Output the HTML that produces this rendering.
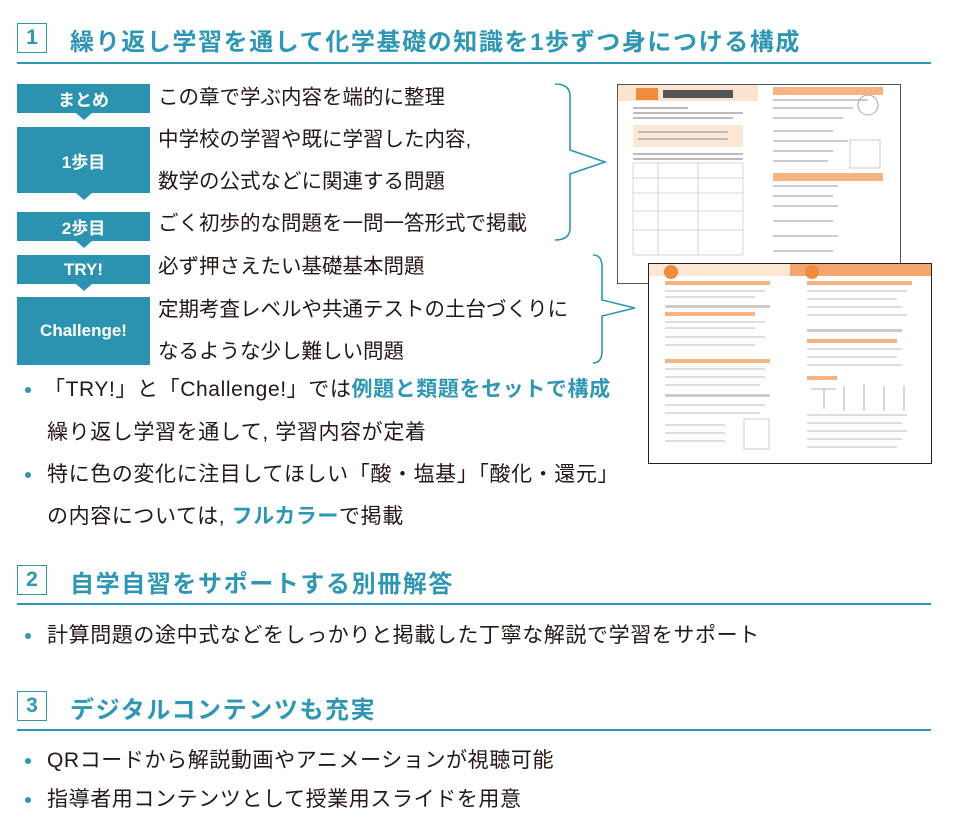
<!DOCTYPE html>
<html><head><meta charset="utf-8"><style>
body{margin:0;width:962px;height:839px;background:#fff;position:relative;overflow:hidden;font-family:"Liberation Sans","Noto Sans CJK JP",sans-serif;color:#231815}
.a{position:absolute;white-space:nowrap}
.h{font-size:24px;font-weight:bold;color:#2f96b4;left:70px;letter-spacing:1.6px}
.num{position:absolute;left:17px;width:28px;height:28px;border:1.5px solid #2f96b4;color:#2f96b4;font-weight:bold;font-size:21px;text-align:center;line-height:28px}
.rule{position:absolute;left:17px;width:914px;height:1.5px;background:#2f96b4}
.lab{position:absolute;left:17px;width:133px;background:#2b93b0;color:#fff;font-weight:bold;font-size:17px;display:flex;align-items:center;justify-content:center}
.tri{position:absolute;left:76px;width:0;height:0;border-left:8px solid transparent;border-right:8px solid transparent;border-top:7px solid #2b93b0}
.t{font-size:20.5px;left:158px;line-height:24px}
.b{font-size:21px;line-height:24px;letter-spacing:0.6px}
.dot{position:absolute;left:25px;width:6px;height:6px;border-radius:50%;background:#2f96b4}
.c{color:#2f96b4;font-weight:bold}
.pg{position:absolute;background:#fff;border:1.5px solid #555}
</style></head><body>
<div class="num" style="top:23px">1</div><div class="a h" style="top:22px">繰り返し学習を通して化学基礎の知識を1歩ずつ身につける構成</div>
<div class="rule" style="top:62px"></div>

<div class="lab" style="top:84px;height:29px">まとめ</div><div class="tri" style="top:113px"></div>
<div class="lab" style="top:127px;height:66px">1歩目</div><div class="tri" style="top:193px"></div>
<div class="lab" style="top:212px;height:29px">2歩目</div><div class="tri" style="top:241px"></div>
<div class="lab" style="top:255px;height:29px">TRY!</div><div class="tri" style="top:284px"></div>
<div class="lab" style="top:297px;height:68px">Challenge!</div>

<div class="a t" style="top:86px">この章で学ぶ内容を端的に整理</div>
<div class="a t" style="top:128px">中学校の学習や既に学習した内容,</div>
<div class="a t" style="top:170px">数学の公式などに関連する問題</div>
<div class="a t" style="top:212px">ごく初歩的な問題を一問一答形式で掲載</div>
<div class="a t" style="top:255px">必ず押さえたい基礎基本問題</div>
<div class="a t" style="top:298px">定期考査レベルや共通テストの土台づくりに</div>
<div class="a t" style="top:340px">なるような少し難しい問題</div>

<svg class="a" style="left:550px;top:80px" width="90" height="290">
<path d="M5 4 Q20 4 20 16 L20 70 L55 82 L20 94 L20 148 Q20 160 5 160" fill="none" stroke="#2f96b4" stroke-width="1.6"/>
<path d="M43 175 Q52 175 52 187 L52 220 L85 228 L52 236 L52 271 Q52 283 43 283" fill="none" stroke="#2f96b4" stroke-width="1.6"/>
</svg>

<div class="pg" style="left:617px;top:84px;width:282px;height:198px">
<svg width="282" height="198">
<rect x="0" y="0" width="140" height="16" fill="#fbe3cf"/><rect x="18" y="3" width="22" height="12" fill="#f08a3c"/>
<rect x="45" y="5" width="70" height="8" fill="#555"/>
<rect x="155" y="2" width="110" height="8" fill="#f6b483"/><rect x="155" y="88" width="110" height="8" fill="#f6b483"/>
<rect x="15" y="40" width="110" height="22" fill="#fde8d6"/>
<g fill="#bbb">
<rect x="15" y="22" width="55" height="2"/><rect x="15" y="27" width="110" height="2"/><rect x="15" y="32" width="100" height="2"/>
<rect x="20" y="46" width="90" height="2"/><rect x="20" y="53" width="90" height="2"/>
<rect x="15" y="68" width="110" height="2"/><rect x="15" y="73" width="110" height="2"/>
</g>
<g fill="none" stroke="#ccc" stroke-width="0.8"><rect x="15" y="78" width="110" height="92"/><line x1="15" y1="93" x2="125" y2="93"/><line x1="15" y1="108" x2="125" y2="108"/><line x1="15" y1="126" x2="125" y2="126"/><line x1="15" y1="145" x2="125" y2="145"/><line x1="40" y1="78" x2="40" y2="170"/><line x1="80" y1="78" x2="80" y2="170"/></g>
<g fill="#ccc"><rect x="155" y="14" width="95" height="2"/><rect x="155" y="22" width="80" height="2"/><rect x="155" y="32" width="70" height="2"/><rect x="155" y="45" width="60" height="2"/><rect x="155" y="55" width="75" height="2"/><rect x="155" y="65" width="60" height="2"/><rect x="155" y="75" width="55" height="2"/><rect x="155" y="100" width="65" height="2"/><rect x="155" y="110" width="60" height="2"/><rect x="155" y="120" width="65" height="2"/><rect x="155" y="135" width="60" height="2"/><rect x="155" y="150" width="65" height="2"/><rect x="155" y="165" width="60" height="2"/></g>
<rect x="232" y="55" width="30" height="28" fill="none" stroke="#aaa" stroke-width="0.6"/><circle cx="250" cy="20" r="10" fill="none" stroke="#aaa"/>
</svg></div>

<div class="pg" style="left:648px;top:263px;width:282px;height:199px;border-color:#222">
<svg width="282" height="199">
<rect x="0" y="0" width="141" height="12" fill="#fde6d2"/><rect x="141" y="0" width="141" height="12" fill="#f5a66e"/>
<circle cx="22" cy="8" r="7" fill="#f08a3c"/><circle cx="163" cy="8" r="7" fill="#f08a3c"/>
<g fill="#f6b483"><rect x="16" y="17" width="105" height="4"/><rect x="16" y="48" width="90" height="4"/><rect x="16" y="95" width="105" height="4"/><rect x="158" y="17" width="105" height="4"/><rect x="158" y="75" width="90" height="4"/><rect x="158" y="112" width="30" height="4"/></g>
<g fill="#ccc"><rect x="16" y="41" width="105" height="3"/><rect x="16" y="130" width="105" height="3"/><rect x="158" y="65" width="95" height="3"/></g>
<g fill="#ddd"><rect x="16" y="26" width="100" height="2"/><rect x="16" y="32" width="90" height="2"/><rect x="16" y="57" width="100" height="2"/><rect x="16" y="63" width="90" height="2"/><rect x="16" y="72" width="100" height="2"/><rect x="16" y="80" width="90" height="2"/><rect x="16" y="104" width="100" height="2"/><rect x="16" y="112" width="100" height="2"/><rect x="16" y="120" width="95" height="2"/><rect x="16" y="140" width="100" height="2"/><rect x="16" y="148" width="95" height="2"/><rect x="16" y="160" width="60" height="2"/><rect x="16" y="168" width="60" height="2"/><rect x="16" y="176" width="60" height="2"/><rect x="158" y="26" width="100" height="2"/><rect x="158" y="34" width="90" height="2"/><rect x="158" y="42" width="95" height="2"/><rect x="158" y="50" width="100" height="2"/><rect x="158" y="84" width="95" height="2"/><rect x="158" y="92" width="90" height="2"/><rect x="158" y="100" width="95" height="2"/><rect x="158" y="150" width="100" height="2"/><rect x="158" y="158" width="95" height="2"/><rect x="158" y="166" width="100" height="2"/><rect x="158" y="174" width="95" height="2"/><rect x="158" y="182" width="90" height="2"/></g>
<rect x="95" y="155" width="25" height="30" fill="none" stroke="#aaa" stroke-width="0.6"/>
<g stroke="#999" fill="none" stroke-width="0.8"><path d="M162 125 h25 M175 125 v20"/><path d="M195 122 v25 M215 120 v27 M235 122 v25 M255 122 v25"/></g>
</svg></div>

<div class="dot" style="top:387px"></div>
<div class="a b" style="left:44px;top:378px">「TRY!」と「Challenge!」では<span class="c">例題と類題をセットで構成</span></div>
<div class="a b" style="left:47px;top:421px">繰り返し学習を通して, 学習内容が定着</div>
<div class="dot" style="top:472px"></div>
<div class="a b" style="left:47px;top:463px">特に色の変化に注目してほしい「酸・塩基」「酸化・還元」</div>
<div class="a b" style="left:47px;top:505px">の内容については, <span class="c">フルカラー</span>で掲載</div>

<div class="num" style="top:565px">2</div><div class="a h" style="top:564px">自学自習をサポートする別冊解答</div>
<div class="rule" style="top:603px"></div>
<div class="dot" style="top:633px"></div>
<div class="a b" style="left:47px;top:624px">計算問題の途中式などをしっかりと掲載した丁寧な解説で学習をサポート</div>

<div class="num" style="top:691px">3</div><div class="a h" style="top:690px">デジタルコンテンツも充実</div>
<div class="rule" style="top:729px"></div>
<div class="dot" style="top:758px"></div>
<div class="a b" style="left:47px;top:749px">QRコードから解説動画やアニメーションが視聴可能</div>
<div class="dot" style="top:797px"></div>
<div class="a b" style="left:47px;top:788px">指導者用コンテンツとして授業用スライドを用意</div>
</body></html>
